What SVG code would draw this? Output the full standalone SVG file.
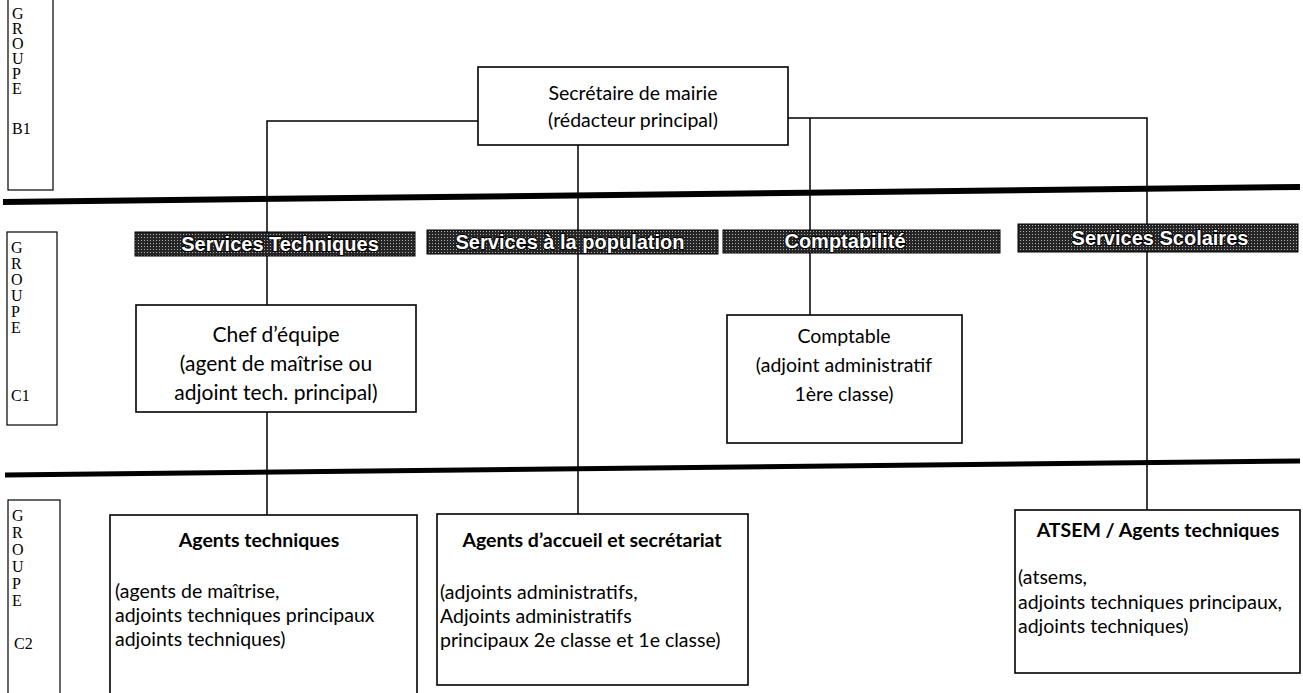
<svg xmlns="http://www.w3.org/2000/svg" width="1303" height="693" viewBox="0 0 1303 693">
<defs>
<pattern id="halftone" width="3" height="3" patternUnits="userSpaceOnUse">
<rect width="3" height="3" fill="#262626"/>
<rect x="0" y="0" width="1" height="1" fill="#b0b0b0"/>
</pattern>
</defs>
<style>
.box{fill:#fff;stroke:#000;stroke-width:1.6}
.grp{fill:#fff;stroke:#000;stroke-width:1.2}
.gl{font-family:"Liberation Serif",serif;font-size:16px;fill:#000}
.t{font-family:Lato,"Liberation Sans",sans-serif;font-size:19.5px;fill:#000}
.t2{font-family:Lato,"Liberation Sans",sans-serif;font-size:21px;fill:#000}
.tc{text-anchor:middle}
.b{font-family:Lato,"Liberation Sans",sans-serif;font-size:19.5px;font-weight:700;fill:#000;text-anchor:middle}
.s{font-family:Lato,"Liberation Sans",sans-serif;font-size:19.5px;fill:#000}
.hdr{fill:url(#halftone);stroke:#000;stroke-width:1}
.ht{font-family:"Liberation Sans",Arial,sans-serif;font-size:20px;font-weight:700;fill:#fff;stroke:#000;stroke-width:2;paint-order:stroke fill;text-anchor:middle}
.c{fill:none;stroke:#000;stroke-width:1.5}
.thick{stroke:#000;fill:none}
</style>

<g id="group-labels">
<g id="grp-b1">
<rect class="grp" x="8" y="-2" width="45" height="192"/>
<text class="gl" x="12" y="19">G</text>
<text class="gl" x="12" y="34">R</text>
<text class="gl" x="12" y="49">O</text>
<text class="gl" x="12" y="64">U</text>
<text class="gl" x="12" y="79">P</text>
<text class="gl" x="12" y="94">E</text>
<text class="gl" x="12" y="134">B1</text>
</g>
<g id="grp-c1">
<rect class="grp" x="7" y="232" width="50" height="193"/>
<text class="gl" x="11" y="253">G</text>
<text class="gl" x="11" y="269">R</text>
<text class="gl" x="11" y="285">O</text>
<text class="gl" x="11" y="301">U</text>
<text class="gl" x="11" y="317">P</text>
<text class="gl" x="11" y="333">E</text>
<text class="gl" x="11" y="401">C1</text>
</g>
<g id="grp-c2">
<rect class="grp" x="8" y="500" width="52" height="196"/>
<text class="gl" x="12" y="521">G</text>
<text class="gl" x="12" y="538">R</text>
<text class="gl" x="12" y="555">O</text>
<text class="gl" x="12" y="572">U</text>
<text class="gl" x="12" y="589">P</text>
<text class="gl" x="12" y="606">E</text>
<text class="gl" x="14" y="649">C2</text>
</g>
</g>

<g id="separators">
<line class="thick" x1="3" y1="202" x2="1300" y2="187" stroke-width="6"/>
<line class="thick" x1="5" y1="475" x2="1300" y2="461" stroke-width="5"/>
</g>

<g id="connectors">
<polyline class="c" points="478,121 267,121 267,232"/>
<polyline class="c" points="788,118 1147,118 1147,224"/>
<line class="c" x1="578" y1="145" x2="578" y2="230"/>
<line class="c" x1="810" y1="118" x2="810" y2="230"/>
<line class="c" x1="267" y1="256" x2="267" y2="305"/>
<line class="c" x1="267" y1="412" x2="267" y2="515"/>
<line class="c" x1="578" y1="254" x2="578" y2="514"/>
<line class="c" x1="810" y1="253" x2="810" y2="315"/>
<line class="c" x1="1147" y1="252" x2="1147" y2="510"/>
</g>

<g id="node-secretaire">
<rect class="box" x="478" y="67" width="310" height="78"/>
<text class="t tc" x="633" y="100">Secrétaire de mairie</text>
<text class="t tc" x="633" y="127">(rédacteur principal)</text>
</g>

<g id="node-services-techniques">
<rect class="hdr" x="135" y="232" width="280" height="24"/>
<text class="ht" x="280" y="251">Services Techniques</text>
</g>
<g id="node-services-population">
<rect class="hdr" x="427" y="230" width="291" height="24"/>
<text class="ht" x="570" y="249">Services à la population</text>
</g>
<g id="node-comptabilite">
<rect class="hdr" x="723" y="230" width="277" height="23"/>
<text class="ht" x="845" y="248">Comptabilité</text>
</g>
<g id="node-services-scolaires">
<rect class="hdr" x="1018" y="224" width="280" height="28"/>
<text class="ht" x="1160" y="245">Services Scolaires</text>
</g>

<g id="node-chef-equipe">
<rect class="box" x="136" y="305" width="280" height="107"/>
<text class="t2 tc" x="276" y="342">Chef d’équipe</text>
<text class="t2 tc" x="276" y="371">(agent de maîtrise ou</text>
<text class="t2 tc" x="276" y="400">adjoint tech. principal)</text>
</g>

<g id="node-comptable">
<rect class="box" x="727" y="315" width="235" height="128"/>
<text class="t tc" x="844" y="343">Comptable</text>
<text class="t tc" x="844" y="372">(adjoint administratif</text>
<text class="t tc" x="844" y="401">1ère classe)</text>
</g>

<g id="node-agents-techniques">
<rect class="box" x="110" y="515" width="307" height="182"/>
<text class="b" x="259" y="547">Agents techniques</text>
<text class="s" x="115" y="598">(agents de maîtrise,</text>
<text class="s" x="115" y="622">adjoints techniques principaux</text>
<text class="s" x="115" y="646">adjoints techniques)</text>
</g>

<g id="node-agents-accueil">
<rect class="box" x="437" y="514" width="311" height="171"/>
<text class="b" x="592" y="547">Agents d’accueil et secrétariat</text>
<text class="s" x="440" y="599">(adjoints administratifs,</text>
<text class="s" x="440" y="623">Adjoints administratifs</text>
<text class="s" x="440" y="647">principaux 2e classe et 1e classe)</text>
</g>

<g id="node-atsem">
<rect class="box" x="1015" y="510" width="285" height="163"/>
<text class="b" x="1158" y="537">ATSEM / Agents techniques</text>
<text class="s" x="1018" y="584">(atsems,</text>
<text class="s" x="1018" y="609">adjoints techniques principaux,</text>
<text class="s" x="1018" y="633">adjoints techniques)</text>
</g>
</svg>
